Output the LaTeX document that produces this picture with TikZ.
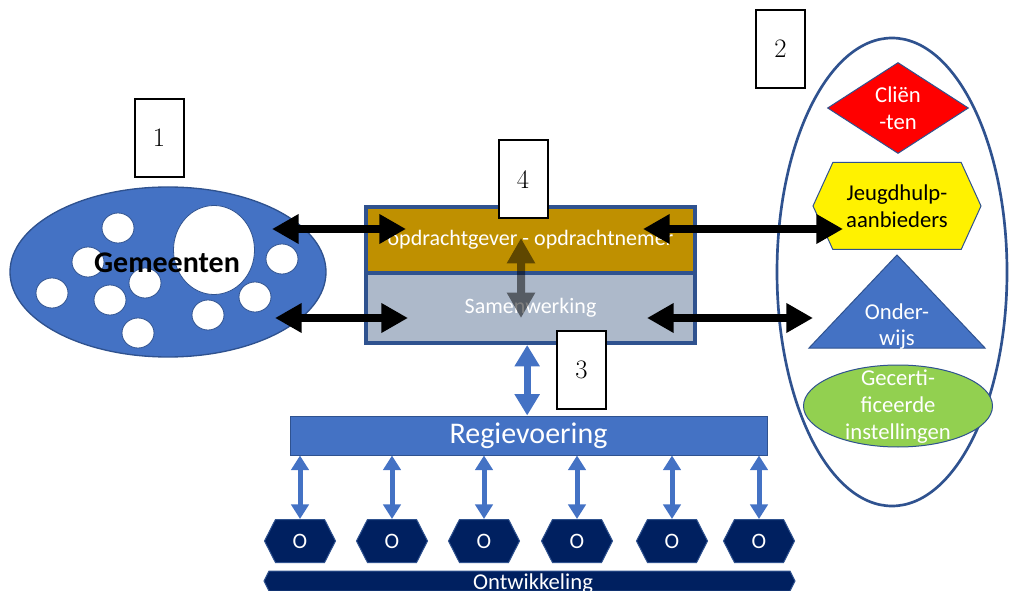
\documentclass[tikz,border=0pt]{standalone}
\usepackage{fontspec}
\setsansfont{Carlito}
\usepackage{tikz}
\usetikzlibrary{arrows.meta,shapes.geometric,shapes.symbols}
\definecolor{fillblue}{HTML}{4472C4}
\definecolor{rimblue}{HTML}{2F528F}
\definecolor{ochre}{HTML}{BF9000}
\definecolor{greyblue}{HTML}{ADB9CA}
\definecolor{navy}{HTML}{002060}
\definecolor{leaf}{HTML}{92D050}

\begin{document}
\begin{tikzpicture}[x=0.75pt,y=-0.75pt,
  numbox/.style={draw=black,line width=1.5pt,fill=white,minimum width=36.75pt,minimum height=58.5pt,inner sep=0pt,font=\fontsize{20}{24}\selectfont},
  hole/.style={ellipse,draw=rimblue,line width=0.6pt,fill=white,minimum width=24pt,minimum height=22.5pt,inner sep=0pt},
  panel/.style={draw=rimblue,line width=3pt,minimum width=246.75pt,inner sep=0pt,text=white,font=\sffamily\fontsize{16.5}{20}\selectfont},
  shapetext/.style={align=center,inner sep=0pt,font=\sffamily\fontsize{17}{20}\selectfont},
  twopoint/.style={signal,signal from=nowhere,signal to=east and west},
  ohex/.style={twopoint,signal pointer angle=126,minimum width=53.25pt,minimum height=32.25pt,inner sep=0pt,fill=navy,draw=rimblue,line width=0.75pt,text=white,font=\sffamily\fontsize{16.5}{20}\selectfont},
  bigarrow/.style={line width=6pt,<->,>={Triangle[length=20pt,width=21pt]}},
  midarrow/.style={line width=5pt,fillblue,<->,>={Triangle[length=16pt,width=18pt]}},
  smallarrow/.style={line width=3.75pt,fillblue,<->,>={Triangle[length=11pt,width=13pt]}}]
\useasboundingbox (0,0) rectangle (1009,591);

\node[ellipse,draw=rimblue,line width=1pt,fill=fillblue,minimum width=237pt,minimum height=127.5pt,inner sep=0pt] (gem) at (168,272) {};
\node[hole,minimum width=60.75pt,minimum height=66.75pt] (bighole) at (214,250) {};
\foreach \px/\py [count=\i] in {118/228,88/262,282/259,52/293,110/300,145/283,138/333,208/315,255/297}
  \node[hole] (hole\i) at (\px,\py) {};
\node[font=\sffamily\bfseries\fontsize{22.5}{27}\selectfont,inner sep=0pt] (gemtxt) at (167,263) {Gemeenten};
\node[numbox] (num1) at (159,138) {1};

\node[panel,fill=ochre,minimum height=49.5pt] (opd) at (530.5,240) {opdrachtgever - opdrachtnemer};
\node[panel,fill=greyblue,minimum height=52.5pt] (sam) at (530.5,308) {Samenwerking};
\node[numbox] (num4) at (523,179.5) {4};
\node[numbox] (num3) at (581.5,370) {3};

\coordinate (ga) at (521,238);
\coordinate (gb) at (521,318);
\begin{scope}[transparency group,opacity=0.5]
\draw[line width=6pt,<->,>={Triangle[length=19pt,width=20pt]}] (ga) -- (gb);
\end{scope}

\node[fill=fillblue,draw=rimblue,line width=0.75pt,minimum width=357.75pt,minimum height=29.25pt,inner sep=0pt,text=white,font=\sffamily\fontsize{22.5}{27}\selectfont] (reg) at (528.5,435.5) {Regievoering};
\draw[midarrow] ([xshift=-2.5pt]sam.south) -- ([xshift=-2.5pt]sam.south |- reg.north);

\foreach \px [count=\i] in {300,392,484,577,672,759} {
  \node[ohex] (o\i) at (\px,541) {O};
  \draw[smallarrow] (o\i.north |- reg.south) -- (o\i.north);
}
\node[twopoint,signal pointer angle=127,fill=navy,draw=rimblue,line width=0.75pt,minimum width=398.25pt,minimum height=15pt,inner sep=0pt] (ontw) at (529.5,581) {};
\node[anchor=base,inner sep=0pt,text=white,font=\sffamily\fontsize{17}{20}\selectfont] (ontwtxt) at (533,589) {Ontwikkeling};

\node[ellipse,draw=rimblue,line width=2pt,fill=white,minimum width=172.5pt,minimum height=351pt,inner sep=0pt] (veld) at (892,272) {};
\node[numbox] (num2) at (780.5,49) {2};
\node[diamond,fill=red,draw=rimblue,line width=0.75pt,minimum width=105.75pt,minimum height=68.25pt,inner sep=0pt] (cli) at (898,108) {};
\node[shapetext,text=white] (clitxt) at (898,108.5) {Cliën\\-ten};
\node[twopoint,signal pointer angle=131,fill=yellow,draw=rimblue,line width=0.75pt,minimum width=126pt,minimum height=65.25pt,inner sep=0pt] (jeugd) at (897,206) {};
\node[shapetext] (jeugdtxt) at (897,206.5) {Jeugdhulp-\\aanbieders};
\filldraw[fill=fillblue,draw=rimblue,line width=0.75pt] (897,255) -- (985,348) -- (809,348) -- cycle;
\node[shapetext,text=white] (ond) at (897,326.5) {Onder-\\wijs};
\node[ellipse,fill=leaf,draw=rimblue,line width=0.75pt,minimum width=141.75pt,minimum height=61.5pt,inner sep=0pt] (cert) at (898,406) {};
\node[shapetext,text=white] (certtxt) at (898,406.5) {Gecerti-\\ficeerde\\instellingen};

\coordinate (la1) at (272,229);
\coordinate (la2) at (406,229);
\coordinate (lb1) at (275,318);
\coordinate (lb2) at (408,318);
\coordinate (ra1) at (643,229);
\coordinate (ra2) at (843,229);
\coordinate (rb1) at (647,318);
\coordinate (rb2) at (813,318);
\draw[bigarrow] (la1) -- (la2);
\draw[bigarrow] (lb1) -- (lb2);
\draw[bigarrow] (ra1) -- (ra2);
\draw[bigarrow] (rb1) -- (rb2);
\end{tikzpicture}
\end{document}
